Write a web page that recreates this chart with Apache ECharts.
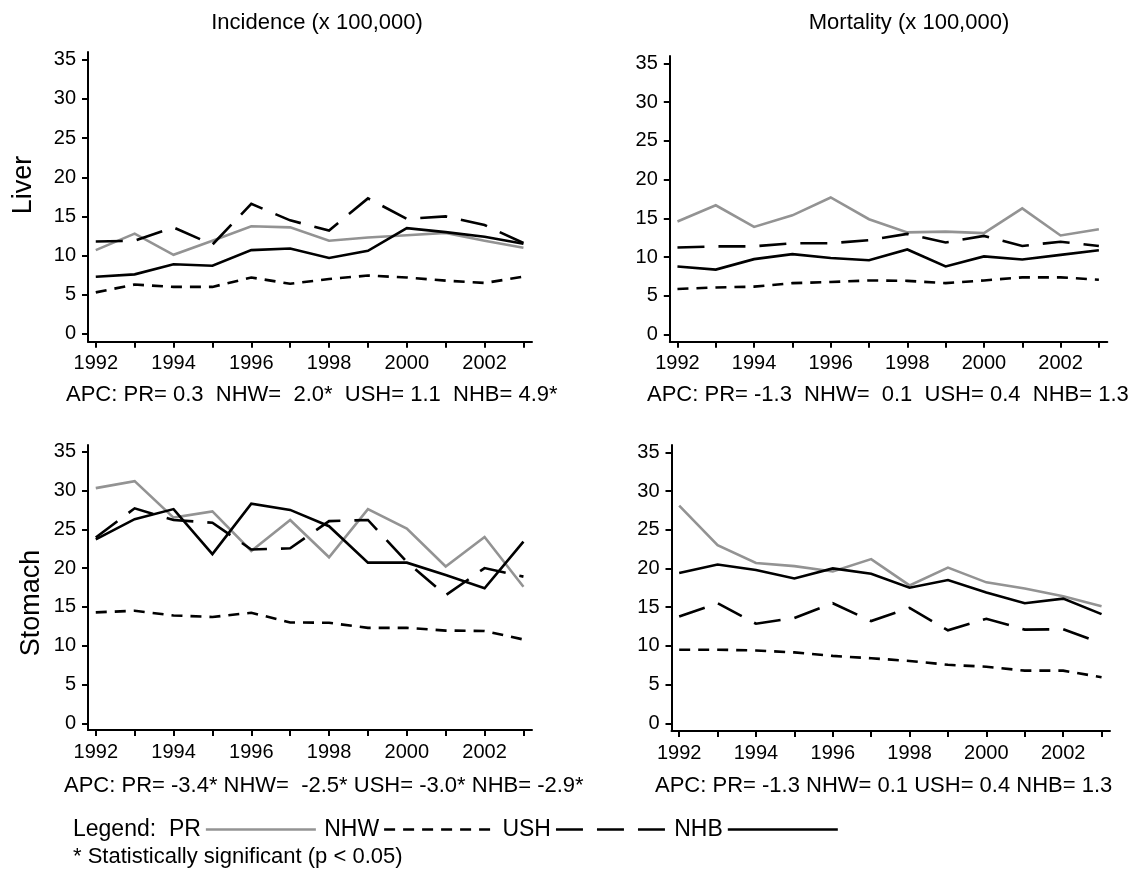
<!DOCTYPE html>
<html>
<head>
<meta charset="utf-8">
<script src="https://cdn.jsdelivr.net/npm/echarts@6/dist/echarts.min.js"></script>
<style>
html,body{margin:0;padding:0;background:#fff;}
#chart{width:1141px;height:869px;}
</style>
</head>
<body>
<div id="chart"></div>
<script>
// ---------- data ----------
var years = [1992,1993,1994,1995,1996,1997,1998,1999,2000,2001,2002,2003];
var groupNames = ['PR','NHW','USH','NHB'];
var yTickValues = [0,5,10,15,20,25,30,35];
var xTickValues = [1992,1993,1994,1995,1996,1997,1998,1999,2000,2001,2002,2003];
var xLabelValues = [1992,1994,1996,1998,2000,2002];

// Liver incidence
var liverIncPR  = [10.7, 12.8, 10.1, 11.9, 13.75, 13.6, 11.9, 12.3, 12.6, 12.9, 11.9, 11.0];
var liverIncNHW = [5.3, 6.3, 6.0, 6.0, 7.2, 6.4, 7.0, 7.45, 7.2, 6.8, 6.5, 7.3];
var liverIncUSH = [11.8, 11.9, 13.6, 11.4, 16.6, 14.5, 13.2, 17.3, 14.7, 15.0, 13.9, 11.6];
var liverIncNHB = [7.3, 7.6, 8.9, 8.7, 10.7, 10.9, 9.7, 10.6, 13.5, 13.0, 12.4, 11.5];
// Liver mortality
var liverMorPR  = [14.6, 16.7, 13.9, 15.4, 17.7, 14.9, 13.2, 13.3, 13.1, 16.3, 12.8, 13.6];
var liverMorNHW = [5.9, 6.1, 6.2, 6.65, 6.8, 7.0, 6.95, 6.65, 7.0, 7.4, 7.4, 7.1];
var liverMorUSH = [11.25, 11.4, 11.4, 11.8, 11.8, 12.2, 13.0, 11.9, 12.75, 11.45, 12.0, 11.45];
var liverMorNHB = [8.8, 8.4, 9.75, 10.4, 9.9, 9.6, 11.0, 8.8, 10.1, 9.7, 10.3, 10.9];
// Stomach incidence
var stomIncPR  = [30.3, 31.2, 26.5, 27.3, 22.2, 26.2, 21.4, 27.6, 25.1, 20.2, 24.0, 17.6];
var stomIncNHW = [14.3, 14.5, 13.9, 13.7, 14.25, 13.0, 12.95, 12.3, 12.3, 11.95, 11.9, 10.8];
var stomIncUSH = [23.95, 27.7, 26.2, 25.85, 22.4, 22.55, 26.05, 26.2, 20.8, 16.5, 20.0, 18.9];
var stomIncNHB = [23.7, 26.3, 27.6, 21.8, 28.3, 27.5, 25.4, 20.7, 20.7, 19.1, 17.4, 23.4];
// Stomach mortality
var stomMorPR  = [28.1, 23.0, 20.7, 20.3, 19.6, 21.2, 17.8, 20.1, 18.2, 17.4, 16.4, 15.1];
var stomMorNHW = [9.5, 9.5, 9.4, 9.15, 8.7, 8.4, 8.05, 7.55, 7.3, 6.8, 6.8, 5.95];
var stomMorUSH = [13.8, 15.5, 12.85, 13.6, 15.5, 13.2, 14.9, 12.0, 13.5, 12.1, 12.15, 10.35];
var stomMorNHB = [19.4, 20.5, 19.8, 18.7, 20.0, 19.3, 17.5, 18.5, 16.9, 15.5, 16.1, 14.1];

var panelData = [
  [liverIncPR, liverIncNHW, liverIncUSH, liverIncNHB],
  [liverMorPR, liverMorNHW, liverMorUSH, liverMorNHB],
  [stomIncPR, stomIncNHW, stomIncUSH, stomIncNHB],
  [stomMorPR, stomMorNHW, stomMorUSH, stomMorNHB]
];

var colTitles = ['Incidence (x 100,000)', 'Mortality (x 100,000)'];
var rowTitles = ['Liver', 'Stomach'];
var apcTexts = [
  'APC: PR= 0.3  NHW=  2.0*  USH= 1.1  NHB= 4.9*',
  'APC: PR= -1.3  NHW=  0.1  USH= 0.4  NHB= 1.3',
  'APC: PR= -3.4* NHW=  -2.5* USH= -3.0* NHB= -2.9*',
  'APC: PR= -1.3 NHW= 0.1 USH= 0.4 NHB= 1.3'
];
var legendPrefix = 'Legend:  ';
var footnote = '* Statistically significant (p < 0.05)';

// ---------- layout / style ----------
var FONT = "'Liberation Sans', Arial, sans-serif";
var panels = [
  {left: 88,  top: 52,  width: 444,   height: 289.7, ymin: -1.0, ymax: 36.0},
  {left: 669.8, top: 56, width: 437.5, height: 285.7, ymin: -0.9, ymax: 35.95},
  {left: 88,  top: 445, width: 444,   height: 285,   ymin: -0.86, ymax: 35.86},
  {left: 671.5, top: 445, width: 438.5, height: 286, ymin: -1.0, ymax: 35.94}
];
var styles = [
  {color: '#939393', width: 2.6, type: 'solid'},
  {color: '#000000', width: 2.6, type: [11, 8]},
  {color: '#000000', width: 2.6, type: [27, 14]},
  {color: '#000000', width: 2.6, type: 'solid'}
];

var grids = [], xAxes = [], yAxes = [], series = [];
panels.forEach(function (p, i) {
  grids.push({left: p.left, top: p.top, width: p.width, height: p.height, containLabel: false, outerBoundsMode: 'none'});
  xAxes.push({
    type: 'value', gridIndex: i, min: 1991.8, max: 2003.22,
    axisLine: {show: true, onZero: false, lineStyle: {color: '#000', width: 2}},
    axisTick: {show: true, length: 6, lineStyle: {color: '#000', width: 2}, customValues: xTickValues},
    axisLabel: {show: true, margin: 12, color: '#000', fontSize: 20, fontFamily: FONT, customValues: xLabelValues,
      formatter: function (v) { return String(v); }},
    splitLine: {show: false}
  });
  yAxes.push({
    type: 'value', gridIndex: i, min: p.ymin, max: p.ymax,
    axisLine: {show: true, onZero: false, lineStyle: {color: '#000', width: 2}},
    axisTick: {show: true, length: 6, lineStyle: {color: '#000', width: 2}, customValues: yTickValues},
    axisLabel: {show: true, margin: 12, color: '#000', fontSize: 20, fontFamily: FONT, customValues: yTickValues},
    splitLine: {show: false}
  });
  groupNames.forEach(function (name, k) {
    var vals = panelData[i][k];
    series.push({
      name: name, type: 'line', xAxisIndex: i, yAxisIndex: i,
      data: years.map(function (y, j) { return [y, vals[j]]; }),
      symbol: 'none', showSymbol: false, smooth: false, silent: true,
      z: 2 + (k === 0 ? 0 : 1),
      itemStyle: {color: styles[k].color},
      lineStyle: {color: styles[k].color, width: styles[k].width, type: styles[k].type, cap: 'butt', join: 'miter'}
    });
  });
});

var txt = function (x, y, text, size, align, rot) {
  return {
    type: 'text', x: x, y: y, rotation: rot || 0, silent: true,
    style: {text: text, fontSize: size, fontFamily: FONT, fill: '#000', align: align || 'left', verticalAlign: 'middle'}
  };
};
var graphics = [
  txt(317, 23, colTitles[0], 22, 'center'),
  txt(909, 23, colTitles[1], 22, 'center'),
  txt(24, 185, rowTitles[0], 27, 'center', Math.PI / 2),
  txt(32, 603, rowTitles[1], 27, 'center', Math.PI / 2),
  txt(66, 395, apcTexts[0], 22, 'left'),
  txt(647, 395, apcTexts[1], 22, 'left'),
  txt(64, 786, apcTexts[2], 22, 'left'),
  txt(655, 786, apcTexts[3], 22, 'left'),
  txt(73, 857, footnote, 22, 'left')
];

var chart = echarts.init(document.getElementById('chart'), null, {renderer: 'canvas'});
chart.setOption({
  animation: false,
  backgroundColor: '#ffffff',
  grid: grids,
  xAxis: xAxes,
  yAxis: yAxes,
  series: series,
  legend: {
    data: groupNames, left: 68, top: 813, orient: 'horizontal', align: 'right',
    itemWidth: 110, itemHeight: 14, itemGap: 7, selectedMode: false,
    itemStyle: {opacity: 0},
    lineStyle: {width: 2.6},
    textStyle: {fontSize: 23, fontFamily: FONT, color: '#000'},
    formatter: function (name) { return name === 'PR' ? legendPrefix + name : name; }
  },
  graphic: graphics
});
</script>
</body>
</html>
